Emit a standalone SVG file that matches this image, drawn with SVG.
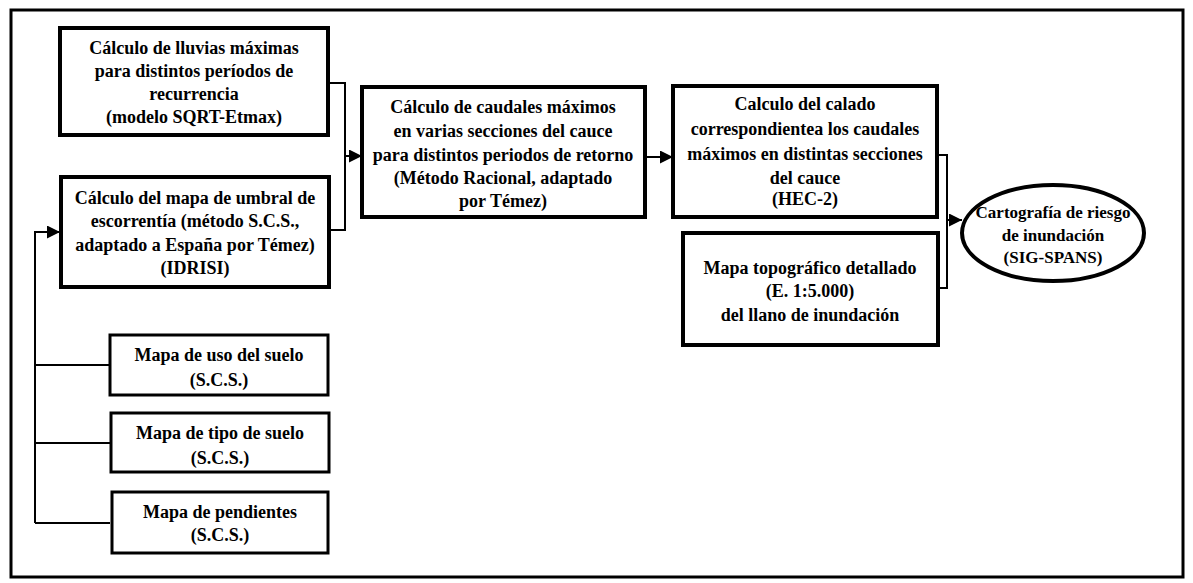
<svg xmlns="http://www.w3.org/2000/svg" width="1193" height="583" viewBox="0 0 1193 583">
<style>
.box{fill:#fff;stroke:#000;stroke-width:4}
.sbox{fill:#fff;stroke:#000;stroke-width:3}
.t{font-family:"Liberation Serif","Times New Roman",serif;font-weight:bold;font-size:18px;fill:#000;text-anchor:middle}
.te{font-size:17px}
.c{fill:none;stroke:#000;stroke-width:2}
</style>
<defs>
<marker id="ah" viewBox="0 0 10 10" refX="10" refY="5" markerWidth="6.5" markerHeight="6.5" orient="auto" markerUnits="strokeWidth">
<path d="M0,0 L10,5 L0,10 z" fill="#000"/>
</marker>
</defs>
<rect x="0" y="0" width="1193" height="583" fill="#fff"/>
<rect x="11" y="10" width="1172" height="567" fill="none" stroke="#000" stroke-width="3"/>
<g id="connectors">
<polyline class="c" points="328,83 345,83 345,230 328,230"/>
<line class="c" x1="345" y1="156" x2="362" y2="156" marker-end="url(#ah)"/>
<line class="c" x1="645" y1="157" x2="673" y2="157" marker-end="url(#ah)"/>
<polyline class="c" points="937,155 947,155 947,288 938,288"/>
<line class="c" x1="947" y1="220" x2="962" y2="220" marker-end="url(#ah)"/>
<polyline class="c" points="35,523 35,232 60,232" marker-end="url(#ah)"/>
<line class="c" x1="35" y1="365" x2="110" y2="365"/>
<line class="c" x1="35" y1="443" x2="110" y2="443"/>
<line class="c" x1="35" y1="523" x2="110" y2="523"/>
</g>
<g id="n1">
<rect class="box" x="60" y="28" width="268" height="107"/>
<text class="t" x="194" y="54">Cálculo de lluvias máximas</text>
<text class="t" x="194" y="77">para distintos períodos de</text>
<text class="t" x="194" y="100">recurrencia</text>
<text class="t" x="194" y="123">(modelo SQRT-Etmax)</text>
</g>
<g id="n2">
<rect class="box" x="61" y="177" width="268" height="110"/>
<text class="t" x="195" y="204">Cálculo del mapa de umbral de</text>
<text class="t" x="195" y="227">escorrentía (método S.C.S.,</text>
<text class="t" x="195" y="251">adaptado a España por Témez)</text>
<text class="t" x="195" y="274">(IDRISI)</text>
</g>
<g id="n3">
<rect class="box" x="362" y="87" width="283" height="130"/>
<text class="t" x="503" y="113">Cálculo de caudales máximos</text>
<text class="t" x="503" y="137">en varias secciones del cauce</text>
<text class="t" x="503" y="161">para distintos periodos de retorno</text>
<text class="t" x="503" y="184">(Método Racional, adaptado</text>
<text class="t" x="503" y="207">por Témez)</text>
</g>
<g id="n4">
<rect class="box" x="673" y="86" width="264" height="131"/>
<text class="t" x="805" y="110">Calculo del calado</text>
<text class="t" x="805" y="135">correspondientea los caudales</text>
<text class="t" x="805" y="160">máximos en distintas secciones</text>
<text class="t" x="805" y="184">del cauce</text>
<text class="t" x="805" y="205">(HEC-2)</text>
</g>
<g id="n5">
<rect class="box" x="683" y="233" width="255" height="112"/>
<text class="t" x="810" y="274">Mapa topográfico detallado</text>
<text class="t" x="810" y="297">(E. 1:5.000)</text>
<text class="t" x="810" y="321">del llano de inundación</text>
</g>
<g id="n6">
<ellipse cx="1053" cy="233" rx="91" ry="48" fill="#fff" stroke="#000" stroke-width="4"/>
<text class="t te" x="1053" y="218">Cartografía de riesgo</text>
<text class="t te" x="1053" y="241">de inundación</text>
<text class="t te" x="1053" y="263">(SIG-SPANS)</text>
</g>
<g id="n7">
<rect class="sbox" x="110" y="335" width="218" height="60"/>
<text class="t" x="219" y="361">Mapa de uso del suelo</text>
<text class="t" x="219" y="386">(S.C.S.)</text>
</g>
<g id="n8">
<rect class="sbox" x="111" y="413" width="218" height="59"/>
<text class="t" x="220" y="439">Mapa de tipo de suelo</text>
<text class="t" x="220" y="464">(S.C.S.)</text>
</g>
<g id="n9">
<rect class="sbox" x="112" y="492" width="216" height="61"/>
<text class="t" x="220" y="518">Mapa de pendientes</text>
<text class="t" x="220" y="541">(S.C.S.)</text>
</g>
</svg>
